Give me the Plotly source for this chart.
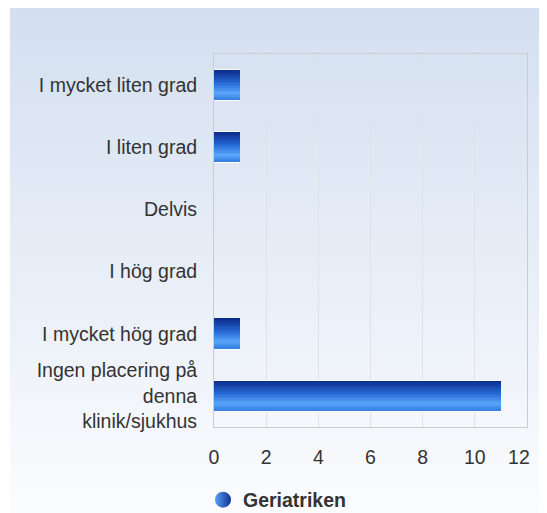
import plotly.graph_objects as go

categories = ["I mycket liten grad", "I liten grad", "Delvis", "I hög grad",
              "I mycket hög grad", "Ingen placering på<br>denna<br>klinik/sjukhus"]
values = [1, 1, 0, 0, 1, 11]
series_name = "Geriatriken"
x_tickvals = [0, 2, 4, 6, 8, 10, 12]
x_ticktext = ["0", "2", "4", "6", "8", "10", "12\u00a0\u00a0\u00a0"]

# vertical gradient stops for bars (top -> bottom)
stops = [(0.0, (10, 42, 135)), (0.45, (40, 105, 215)), (0.78, (90, 167, 250)), (1.0, (50, 125, 225))]

def grad(t):
    for (t0, c0), (t1, c1) in zip(stops[:-1], stops[1:]):
        if t0 <= t <= t1:
            f = (t - t0) / (t1 - t0)
            return "rgb(%d,%d,%d)" % tuple(round(a + (b - a) * f) for a, b in zip(c0, c1))
    return "rgb(%d,%d,%d)" % stops[-1][1]

fig = go.Figure()
bar_w = 0.48
fig.add_trace(go.Bar(y=categories, x=values, orientation="h", width=bar_w + 0.03,
                     marker=dict(color="white", line=dict(width=0), cornerradius=3),
                     showlegend=False, hoverinfo="skip"))
N = 20
sw = bar_w / N
for i in range(N):
    fig.add_trace(go.Bar(y=categories, x=values, orientation="h", width=sw * 1.15,
                         offset=-bar_w / 2 + i * sw,
                         marker=dict(color=grad((i + 0.5) / N), line=dict(width=0)),
                         showlegend=False, hoverinfo="skip"))

fig.add_trace(go.Scatter(x=[None], y=[None], mode="markers", name=series_name,
                         marker=dict(symbol="circle", size=19, color="rgb(90,160,245)",
                                     gradient=dict(type="horizontal", color="rgb(15,50,150)"),
                                     line=dict(width=0))))

bg_svg = ("data:image/svg+xml;utf8,<svg xmlns='http://www.w3.org/2000/svg' width='100' height='100' "
          "preserveAspectRatio='none' viewBox='0 0 100 100'><defs><linearGradient id='g' x1='0' y1='0' x2='0' y2='1'>"
          "<stop offset='0' stop-color='%23d3dff0'/><stop offset='1' stop-color='%23fbfcfe'/></linearGradient></defs>"
          "<rect width='100' height='100' fill='url(%23g)'/></svg>")

W, H = 539, 505          # page has 8px body margin
L, R, T, B = 206, 20, 46, 86
pw, ph = W - L - R, H - T - B
def px2x(p): return (p - L) / pw
def py2y(p): return (H - B - p) / ph

fig.add_layout_image(dict(source=bg_svg, xref="paper", yref="paper",
                          x=px2x(2), y=py2y(0), sizex=(W - 2) / pw, sizey=H / ph,
                          sizing="stretch", xanchor="left", yanchor="top", layer="below"))

FS = 19.5
fig.update_layout(
    width=W, height=H,
    margin=dict(l=L, r=R, t=T, b=B, autoexpand=False),
    paper_bgcolor="white", plot_bgcolor="rgba(0,0,0,0)",
    barmode="overlay", bargap=0,
    font=dict(family="Liberation Sans, Arial, sans-serif", size=FS, color="#333333"),
    xaxis=dict(range=[0, 12], tickvals=x_tickvals, ticktext=x_ticktext,
               showgrid=True, gridcolor="#e2e2e2", gridwidth=1,
               showline=True, linecolor="#cccccc", mirror=True, zeroline=False,
               ticks="", ticklabelstandoff=13, ticklabeloverflow="allow",
               fixedrange=True, automargin=False),
    yaxis=dict(categoryorder="array", categoryarray=categories, autorange="reversed",
               showgrid=False, showline=True, linecolor="#cccccc", mirror=True,
               ticks="", ticklabelstandoff=12, ticklabeloverflow="allow",
               fixedrange=True, automargin=False),
    legend=dict(orientation="h", x=px2x(195), xanchor="left", y=py2y(492), yanchor="middle",
                font=dict(size=FS, color="#333333", weight="bold"), bgcolor="rgba(0,0,0,0)"),
    showlegend=True,
)

fig.write_html("out.html")
